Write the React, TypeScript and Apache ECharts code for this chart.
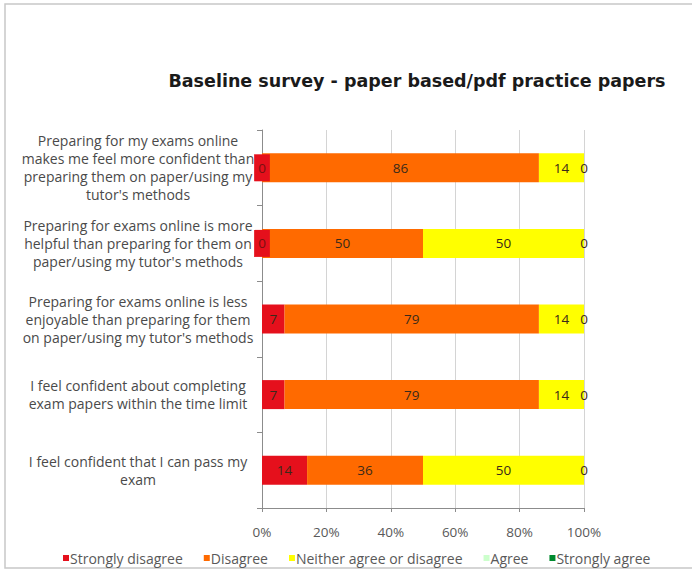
import React, { useEffect, useRef } from "react";
import * as echarts from "echarts";

const categories = [
  "Preparing for my exams online\nmakes me feel more confident than\npreparing them on paper/using my\ntutor's methods",
  "Preparing for exams online is more\nhelpful than preparing for them on\npaper/using my tutor's methods",
  "Preparing for exams online is less\nenjoyable than preparing for them\non paper/using my tutor's methods",
  "I feel confident about completing\nexam papers within the time limit",
  "I feel confident that I can pass my\nexam",
];
const seriesNames = [
  "Strongly disagree",
  "Disagree",
  "Neither agree or disagree",
  "Agree",
  "Strongly agree",
];
const stronglyDisagree = [0, 0, 7, 7, 14];
const disagree = [86, 50, 79, 79, 36];
const neither = [14, 50, 14, 14, 50];
const agree = [0, 0, 0, 0, 0];
const stronglyAgree = [0, 0, 0, 0, 0];
const xTicks = [0, 20, 40, 60, 80, 100];

const colors = ["#e5101c", "#ff6a00", "#ffff00", "#ccffcc", "#008a2e"];
const FONT = "'Open Sans', 'Noto Sans', sans-serif";

export default function App() {
  const ref = useRef<HTMLDivElement>(null);
  useEffect(() => {
    if (!ref.current) return;
    const chart = echarts.init(ref.current, undefined, { renderer: "svg" });
    const values = [stronglyDisagree, disagree, neither, agree, stronglyAgree];
    const labelBase = {
      show: true,
      position: "inside" as const,
      color: "#3a2a1a",
      fontSize: 13.5,
      fontFamily: FONT,
    };
    const series = values.map((vals, i) => ({
      name: seriesNames[i],
      type: "bar",
      stack: "total",
      barWidth: 29,
      itemStyle: { color: colors[i] },
      label: { ...labelBase, show: i !== 4 },
      data: vals.map((v) => {
        if (i === 0 && v === 0) {
          return {
            value: v,
            label: {
              ...labelBase,
              backgroundColor: colors[0],
              padding: [7, 4, 6, 4],
              color: "#7a1010",
            },
          };
        }
        return v;
      }),
    }));
    chart.setOption({
      animation: false,
      backgroundColor: "#ffffff",
      title: {
        text: "Baseline survey - paper based/pdf practice papers",
        left: 412,
        top: 67,
        textAlign: "center",
        textStyle: {
          fontFamily: "'DejaVu Sans', sans-serif",
          fontWeight: "bold",
          fontSize: 17.5,
          color: "#1a1a1a",
        },
      },
      graphic: [
        {
          type: "rect",
          shape: { x: 5, y: 4, width: 720, height: 564 },
          style: { fill: "none", stroke: "#c8c8c8", lineWidth: 1.5 },
          silent: true,
        },
      ],
      legend: {
        left: 58,
        top: 546,
        itemWidth: 6,
        itemHeight: 6,
        itemGap: 21,
        icon: "rect",
        data: seriesNames,
        textStyle: {
          fontFamily: FONT,
          fontSize: 14,
          color: "#595959",
          padding: [0, 0, 0, -4],
        },
      },
      grid: { left: 262, right: 108, top: 130, bottom: 66 },
      xAxis: {
        type: "value",
        min: xTicks[0],
        max: xTicks[xTicks.length - 1],
        interval: 20,
        axisLine: { show: true, lineStyle: { color: "#8c8c8c" } },
        axisTick: { show: true, length: 4, lineStyle: { color: "#8c8c8c" } },
        splitLine: { show: true, lineStyle: { color: "#d4d4d4" } },
        axisLabel: {
          formatter: "{value}%",
          fontFamily: FONT,
          fontSize: 13.5,
          color: "#595959",
          margin: 17,
        },
      },
      yAxis: {
        type: "category",
        inverse: true,
        data: categories,
        axisLine: { show: true, lineStyle: { color: "#8c8c8c" } },
        axisTick: { show: true, length: 5, lineStyle: { color: "#8c8c8c" } },
        axisLabel: {
          align: "center",
          margin: 124,
          fontFamily: FONT,
          fontSize: 14,
          lineHeight: 18,
          color: "#4a4a4a",
        },
      },
      series,
    });
    return () => chart.dispose();
  }, []);
  return (
    <div
      ref={ref}
      style={{ position: "fixed", left: 0, top: 0, width: 692, height: 574 }}
    />
  );
}
